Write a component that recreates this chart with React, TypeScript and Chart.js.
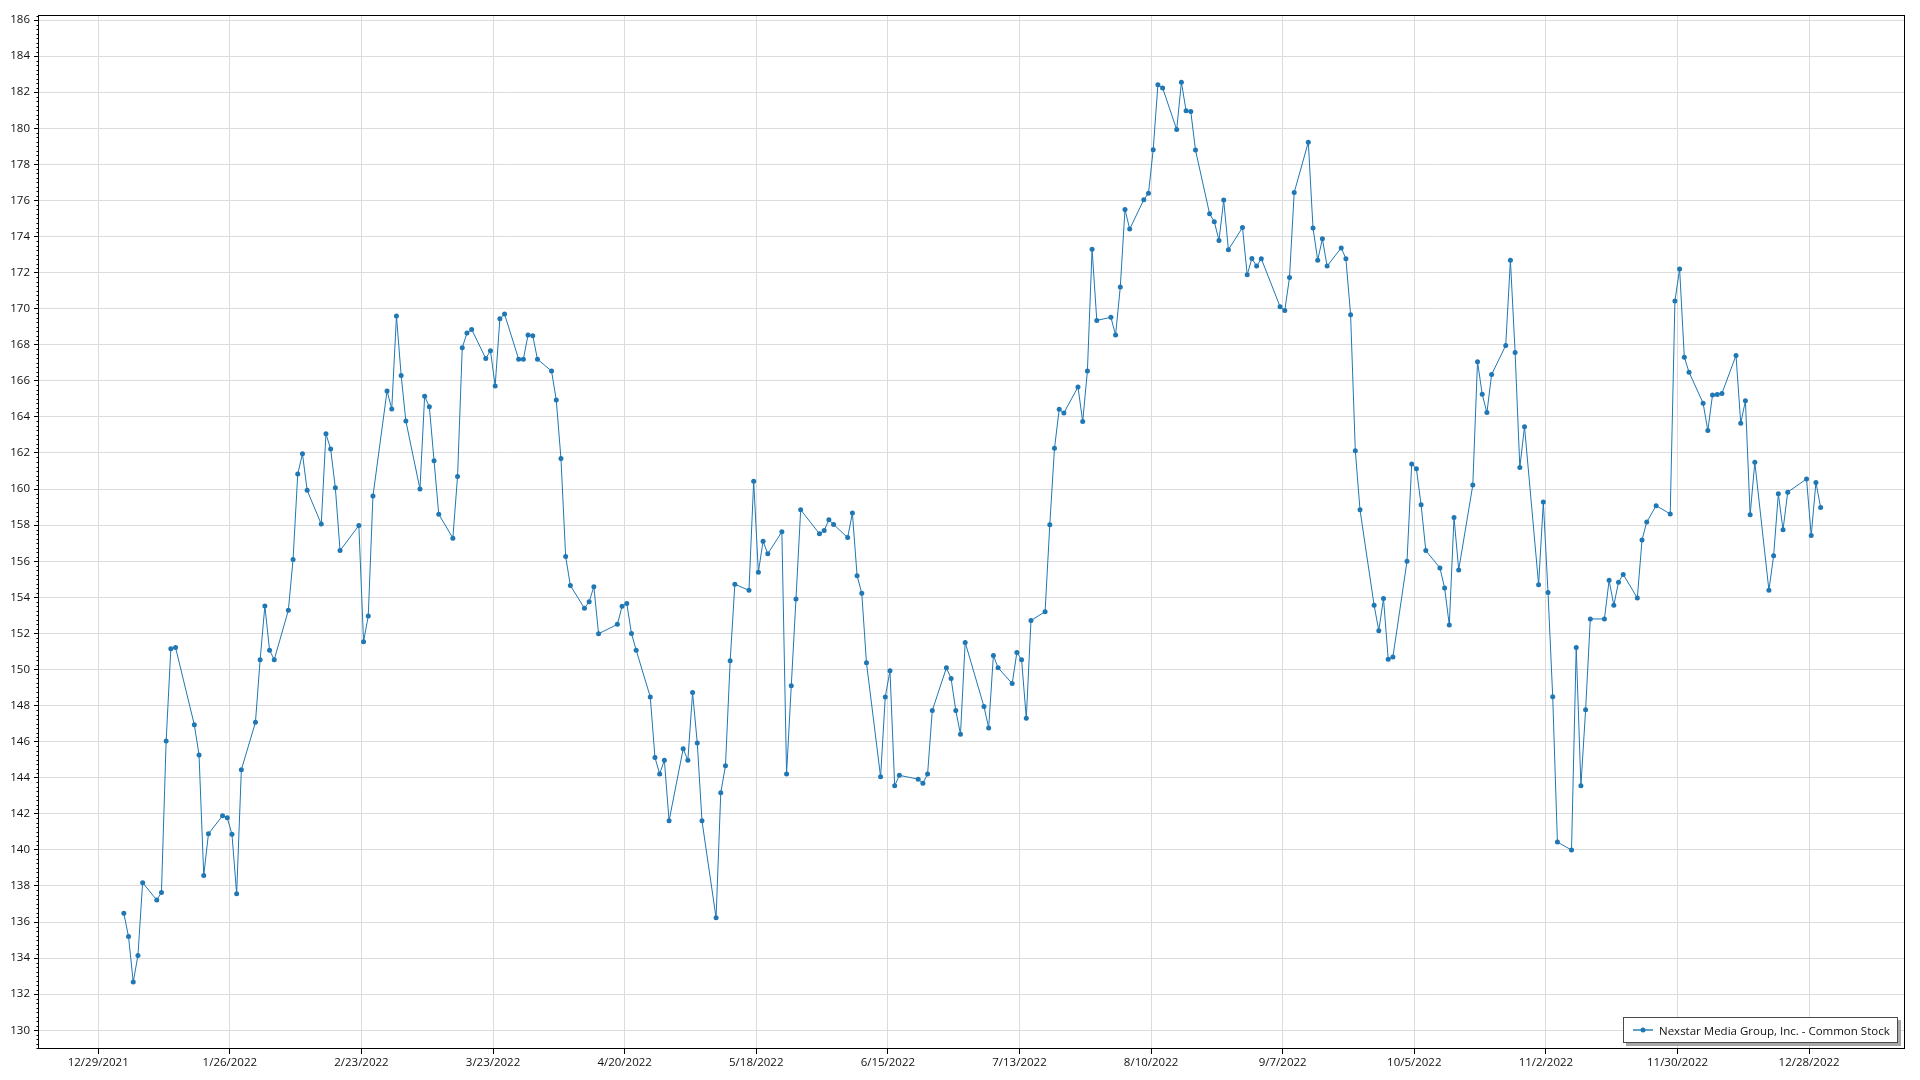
import { useEffect, useRef } from 'react';
import { Chart, registerables } from 'chart.js';

Chart.register(...registerables);

const SERIES_NAME = 'Nexstar Media Group, Inc. - Common Stock';
const LINE_COLOR = '#1f77b4';

// Trading days (2022)
const tradeDates: string[] = [
  // Jan
  '2022-01-03','2022-01-04','2022-01-05','2022-01-06','2022-01-07','2022-01-10','2022-01-11','2022-01-12','2022-01-13','2022-01-14',
  '2022-01-18','2022-01-19','2022-01-20','2022-01-21','2022-01-24','2022-01-25','2022-01-26','2022-01-27','2022-01-28','2022-01-31',
  // Feb
  '2022-02-01','2022-02-02','2022-02-03','2022-02-04','2022-02-07','2022-02-08','2022-02-09','2022-02-10','2022-02-11','2022-02-14',
  '2022-02-15','2022-02-16','2022-02-17','2022-02-18','2022-02-22','2022-02-23','2022-02-24','2022-02-25','2022-02-28',
  // Mar
  '2022-03-01','2022-03-02','2022-03-03','2022-03-04','2022-03-07','2022-03-08','2022-03-09','2022-03-10','2022-03-11','2022-03-14',
  '2022-03-15','2022-03-16','2022-03-17','2022-03-18','2022-03-21','2022-03-22','2022-03-23','2022-03-24','2022-03-25','2022-03-28',
  '2022-03-29','2022-03-30','2022-03-31',
  // Apr
  '2022-04-01','2022-04-04','2022-04-05','2022-04-06','2022-04-07','2022-04-08','2022-04-11','2022-04-12','2022-04-13','2022-04-14',
  '2022-04-18','2022-04-19','2022-04-20','2022-04-21','2022-04-22','2022-04-25','2022-04-26','2022-04-27','2022-04-28','2022-04-29',
  // May
  '2022-05-02','2022-05-03','2022-05-04','2022-05-05','2022-05-06','2022-05-09','2022-05-10','2022-05-11','2022-05-12','2022-05-13',
  '2022-05-16','2022-05-17','2022-05-18','2022-05-19','2022-05-20','2022-05-23','2022-05-24','2022-05-25','2022-05-26','2022-05-27',
  '2022-05-31',
  // Jun
  '2022-06-01','2022-06-02','2022-06-03','2022-06-06','2022-06-07','2022-06-08','2022-06-09','2022-06-10','2022-06-13','2022-06-14',
  '2022-06-15','2022-06-16','2022-06-17','2022-06-21','2022-06-22','2022-06-23','2022-06-24','2022-06-27','2022-06-28','2022-06-29',
  '2022-06-30',
  // Jul
  '2022-07-01','2022-07-05','2022-07-06','2022-07-07','2022-07-08','2022-07-11','2022-07-12','2022-07-13','2022-07-14','2022-07-15',
  '2022-07-18','2022-07-19','2022-07-20','2022-07-21','2022-07-22','2022-07-25','2022-07-26','2022-07-27','2022-07-28','2022-07-29',
  // Aug
  '2022-08-01','2022-08-02','2022-08-03','2022-08-04','2022-08-05','2022-08-08','2022-08-09','2022-08-10','2022-08-11','2022-08-12',
  '2022-08-15','2022-08-16','2022-08-17','2022-08-18','2022-08-19','2022-08-22','2022-08-23','2022-08-24','2022-08-25','2022-08-26',
  '2022-08-29','2022-08-30','2022-08-31',
  // Sep
  '2022-09-01','2022-09-02','2022-09-06','2022-09-07','2022-09-08','2022-09-09','2022-09-12','2022-09-13','2022-09-14','2022-09-15',
  '2022-09-16','2022-09-19','2022-09-20','2022-09-21','2022-09-22','2022-09-23','2022-09-26','2022-09-27','2022-09-28','2022-09-29',
  '2022-09-30',
  // Oct
  '2022-10-03','2022-10-04','2022-10-05','2022-10-06','2022-10-07','2022-10-10','2022-10-11','2022-10-12','2022-10-13','2022-10-14',
  '2022-10-17','2022-10-18','2022-10-19','2022-10-20','2022-10-21','2022-10-24','2022-10-25','2022-10-26','2022-10-27','2022-10-28',
  '2022-10-31',
  // Nov
  '2022-11-01','2022-11-02','2022-11-03','2022-11-04','2022-11-07','2022-11-08','2022-11-09','2022-11-10','2022-11-11','2022-11-14',
  '2022-11-15','2022-11-16','2022-11-17','2022-11-18','2022-11-21','2022-11-22','2022-11-23','2022-11-25','2022-11-28','2022-11-29',
  '2022-11-30',
  // Dec
  '2022-12-01','2022-12-02','2022-12-05','2022-12-06','2022-12-07','2022-12-08','2022-12-09','2022-12-12','2022-12-13','2022-12-14',
  '2022-12-15','2022-12-16','2022-12-19','2022-12-20','2022-12-21','2022-12-22','2022-12-23','2022-12-27','2022-12-28','2022-12-29',
  '2022-12-30',
];

const closePrices: number[] = [
  // Jan
  136.48,135.19,132.67,134.15,138.18,137.22,137.63,146.04,151.15,151.22,
  146.93,145.26,138.58,140.89,141.89,141.78,140.87,137.56,144.44,147.07,
  // Feb
  150.54,153.52,151.07,150.54,153.28,156.09,160.83,161.96,159.93,158.06,
  163.06,162.22,160.07,156.59,157.98,151.54,152.96,159.61,165.44,
  // Mar
  164.44,169.59,166.30,163.78,160.00,165.15,164.56,161.57,158.61,157.28,
  160.70,167.83,168.65,168.85,167.24,167.67,165.72,169.44,169.70,167.20,
  167.20,168.54,168.50,
  // Apr
  167.20,166.54,164.94,161.69,156.26,154.65,153.39,153.76,154.59,151.98,
  152.50,153.50,153.65,152.00,151.07,148.48,145.12,144.21,144.97,141.61,
  // May
  145.60,144.97,148.72,145.93,141.61,136.23,143.16,144.66,150.48,154.72,
  154.39,160.44,155.39,157.11,156.41,157.63,144.21,149.09,153.91,158.85,
  157.52,
  // Jun
  157.70,158.30,158.04,157.31,158.67,155.20,154.22,150.37,144.05,148.48,
  149.93,143.55,144.13,143.92,143.69,144.20,147.72,150.09,149.50,147.72,
  146.41,
  // Jul
  151.50,147.94,146.76,150.78,150.09,149.22,150.94,150.54,147.30,152.72,
  153.20,158.02,162.26,164.42,164.22,165.66,163.74,166.54,173.30,169.35,
  // Aug
  169.52,168.54,171.20,175.50,174.41,176.04,176.40,178.81,182.41,182.24,
  179.93,182.55,180.97,180.93,178.79,175.26,174.82,173.78,176.02,173.27,
  174.50,171.88,172.78,
  // Sep
  172.36,172.77,170.11,169.90,171.73,176.44,179.23,174.47,172.69,173.87,
  172.36,173.37,172.77,169.67,162.13,158.85,153.56,152.15,153.93,150.57,
  150.69,
  // Oct
  156.00,161.39,161.12,159.13,156.59,155.63,154.52,152.46,158.43,155.52,
  160.22,167.06,165.26,164.24,166.35,167.96,172.69,167.57,161.20,163.46,
  154.70,
  // Nov
  159.28,154.27,148.49,140.43,139.99,151.22,143.55,147.77,152.80,152.80,
  154.94,153.56,154.84,155.27,153.96,157.18,158.17,159.08,158.62,170.43,
  172.20,
  // Dec
  167.31,166.48,164.76,163.24,165.22,165.24,165.30,167.41,163.65,164.89,
  158.57,161.48,154.39,156.31,159.74,157.74,159.83,160.56,157.43,160.37,
  158.98,
];

const xTickLabels: string[] = [
  '12/29/2021','1/26/2022','2/23/2022','3/23/2022','4/20/2022','5/18/2022','6/15/2022',
  '7/13/2022','8/10/2022','9/7/2022','10/5/2022','11/2/2022','11/30/2022','12/28/2022',
];

const yTickValues: number[] = [
  130,132,134,136,138,140,142,144,146,148,150,152,154,156,158,
  160,162,164,166,168,170,172,174,176,178,180,182,184,186,
];

const EPOCH = Date.UTC(2021, 11, 29);
const DAY = 86400000;
const SAMPLE_TIME_OFFSET = 0.45; // sample time within the day (fraction of a day)

function isoToDay(s: string): number {
  const [y, m, d] = s.split('-').map(Number);
  return (Date.UTC(y, m - 1, d) - EPOCH) / DAY;
}
function mdyToDay(s: string): number {
  const [m, d, y] = s.split('/').map(Number);
  return (Date.UTC(y, m - 1, d) - EPOCH) / DAY;
}

const X_MIN = -12.6;
const X_MAX = 384.4;
const Y_MIN = 128.96;
const Y_MAX = 186.28;

const FONT_FAMILY = '"Open Sans", "Noto Sans", sans-serif';

const frameMinorPlugin = {
  id: 'frameMinor',
  afterDraw(chart: any) {
    const { ctx, chartArea: a, scales } = chart;
    const y = scales.y;
    ctx.save();
    ctx.strokeStyle = '#000';
    ctx.lineWidth = 1;
    ctx.beginPath();
    const start = Math.ceil(y.min * 4) / 4;
    for (let v = start; v <= y.max + 1e-9; v += 0.25) {
      const r = v / 2;
      if (Math.abs(r - Math.round(r)) < 1e-6) continue;
      const py = Math.round(y.getPixelForValue(v)) + 0.5;
      ctx.moveTo(a.left - 2.5, py);
      ctx.lineTo(a.left, py);
    }
    ctx.stroke();
    ctx.strokeRect(Math.round(a.left) - 0.5, Math.round(a.top) + 0.5, Math.round(a.right - a.left), Math.round(a.bottom - a.top) - 1);
    ctx.restore();
  },
};

export default function App() {
  const canvasRef = useRef<HTMLCanvasElement | null>(null);

  useEffect(() => {
    if (!canvasRef.current) return;
    const points = tradeDates.map((d, i) => ({ x: isoToDay(d) + SAMPLE_TIME_OFFSET, y: closePrices[i] }));
    const xTickDays = xTickLabels.map(mdyToDay);

    const chart = new Chart(canvasRef.current, {
      type: 'line',
      data: {
        datasets: [
          {
            label: SERIES_NAME,
            data: points,
            borderColor: LINE_COLOR,
            backgroundColor: LINE_COLOR,
            borderWidth: 1,
            pointRadius: 2.5,
            pointBorderWidth: 0,
            pointBackgroundColor: LINE_COLOR,
            tension: 0,
            fill: false,
          },
        ],
      },
      options: {
        responsive: false,
        animation: false,
        events: [],
        layout: { padding: { left: 0, top: 15, right: 15, bottom: 0 } },
        plugins: {
          legend: { display: false },
          tooltip: { enabled: false },
        },
        scales: {
          x: {
            type: 'linear',
            min: X_MIN,
            max: X_MAX,
            border: { display: false },
            grid: {
              color: '#dcdcdc',
              lineWidth: 1,
              drawTicks: true,
              tickLength: 5,
              tickColor: '#000',
            },
            ticks: {
              autoSkip: false,
              maxRotation: 0,
              padding: 2,
              color: '#111',
              font: { family: FONT_FAMILY, size: 11.5 },
              callback: (_v: any, i: number) => xTickLabels[i],
            },
            afterBuildTicks: (scale: any) => {
              scale.ticks = xTickDays.map((v) => ({ value: v }));
            },
            afterFit: (scale: any) => {
              scale.height = 31;
            },
          },
          y: {
            type: 'linear',
            min: Y_MIN,
            max: Y_MAX,
            border: { display: false },
            grid: {
              color: '#dcdcdc',
              lineWidth: 1,
              drawTicks: true,
              tickLength: 5,
              tickColor: '#000',
            },
            ticks: {
              autoSkip: false,
              padding: 4,
              color: '#111',
              font: { family: FONT_FAMILY, size: 11.5 },
              callback: (v: any) => String(v),
            },
            afterBuildTicks: (scale: any) => {
              scale.ticks = yTickValues.map((v) => ({ value: v }));
            },
            afterFit: (scale: any) => {
              scale.width = 39;
            },
          },
        },
      },
      plugins: [frameMinorPlugin],
    });
    return () => chart.destroy();
  }, []);

  return (
    <div style={{ position: 'fixed', left: 0, top: 0, width: 1920, height: 1080, background: '#fff' }}>
      <canvas ref={canvasRef} width={1920} height={1080} style={{ display: 'block' }} />
      <div
        style={{
          position: 'absolute',
          left: 1623,
          top: 1017,
          width: 275,
          height: 26,
          boxSizing: 'border-box',
          border: '1px solid #4a4a4a',
          background: '#fff',
          boxShadow: '3px 3px 0 #a8a8a8',
          display: 'flex',
          alignItems: 'center',
          fontFamily: FONT_FAMILY,
          fontSize: 11.5,
          color: '#111',
          whiteSpace: 'nowrap',
        }}
      >
        <svg width={20} height={8} style={{ marginLeft: 9, marginRight: 6, flex: 'none' }}>
          <line x1={0} y1={4} x2={20} y2={4} stroke={LINE_COLOR} strokeOpacity={0.7} strokeWidth={2} />
          <circle cx={10} cy={4} r={2.5} fill={LINE_COLOR} />
        </svg>
        <span>{SERIES_NAME}</span>
      </div>
    </div>
  );
}
